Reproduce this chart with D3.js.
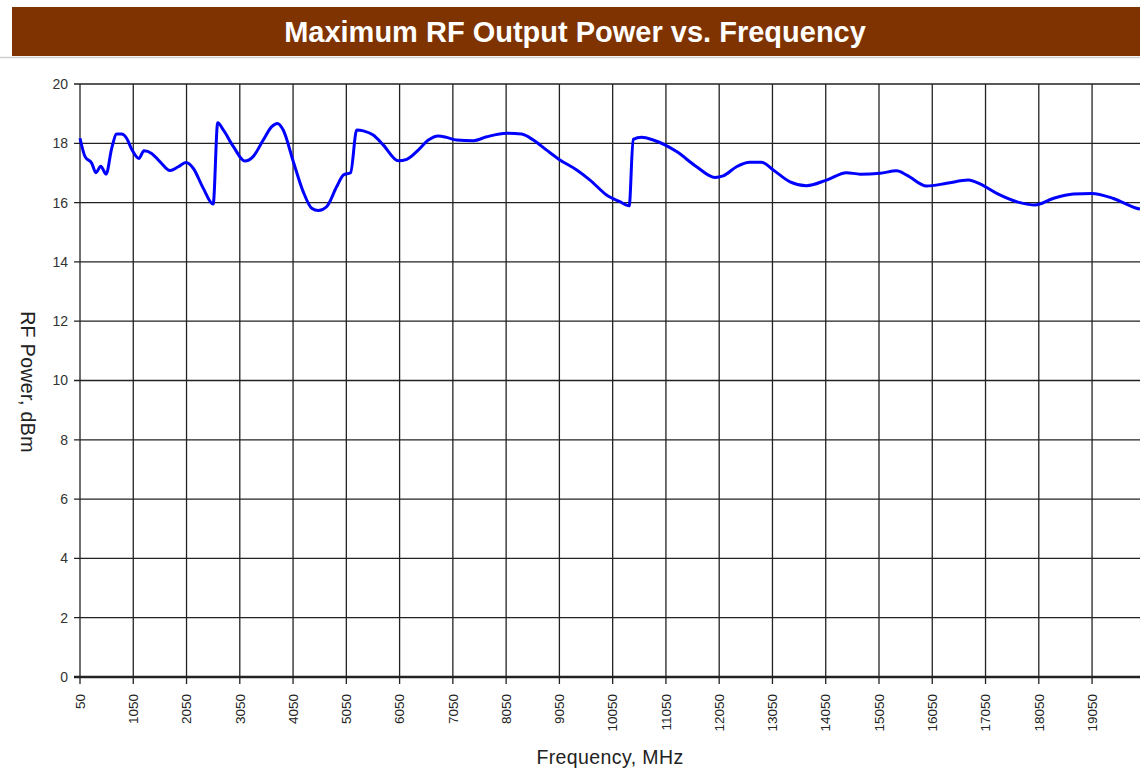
<!DOCTYPE html>
<html>
<head>
<meta charset="utf-8">
<script src="https://cdn.jsdelivr.net/npm/d3@7"></script>
<style>
  body { margin: 0; background: #fff; }
  svg { display: block; font-family: Arial, "Liberation Sans", sans-serif; }
</style>
</head>
<body>
<div id="chart-area"></div>
<script>
// data
var freqs = [50, 145, 270, 350, 440, 540, 645, 740, 830, 925, 1020, 1155, 1250, 1395, 1550, 1740, 1895, 2040, 2175, 2365, 2550, 2635, 2740, 2930, 3145, 3300, 3490, 3650, 3755, 3865, 4055, 4240, 4400, 4525, 4680, 4870, 4995, 5130, 5245, 5370, 5555, 5745, 6025, 6185, 6400, 6590, 6775, 6935, 7120, 7435, 7685, 8060, 8340, 8560, 8810, 9060, 9375, 9625, 9935, 10185, 10360, 10435, 10595, 10810, 11250, 11625, 11970, 12125, 12375, 12625, 12845, 13065, 13380, 13690, 14065, 14440, 14695, 15070, 15380, 15570, 15945, 16320, 16725, 16945, 17260, 17695, 17980, 18320, 18700, 19040, 19450, 19885, 19950];
var power = [18.17, 17.55, 17.33, 17.01, 17.23, 16.96, 17.83, 18.31, 18.31, 18.17, 17.80, 17.49, 17.75, 17.66, 17.38, 17.08, 17.21, 17.35, 17.16, 16.48, 15.95, 18.69, 18.45, 17.89, 17.40, 17.55, 18.11, 18.56, 18.67, 18.45, 17.38, 16.37, 15.81, 15.73, 15.86, 16.54, 16.93, 17.01, 18.45, 18.42, 18.28, 17.94, 17.41, 17.46, 17.77, 18.11, 18.25, 18.20, 18.11, 18.09, 18.22, 18.34, 18.31, 18.11, 17.77, 17.44, 17.10, 16.76, 16.26, 16.03, 15.89, 18.13, 18.20, 18.11, 17.72, 17.21, 16.85, 16.90, 17.21, 17.36, 17.36, 17.10, 16.70, 16.57, 16.76, 17.01, 16.96, 16.99, 17.07, 16.93, 16.56, 16.65, 16.76, 16.63, 16.31, 16.00, 15.92, 16.14, 16.29, 16.31, 16.14, 15.81, 15.78];
var xTicks = [50, 1050, 2050, 3050, 4050, 5050, 6050, 7050, 8050, 9050, 10050, 11050, 12050, 13050, 14050, 15050, 16050, 17050, 18050, 19050];
var yTicks = [0, 2, 4, 6, 8, 10, 12, 14, 16, 18, 20];

var title = "Maximum RF Output Power vs. Frequency";
var xLabel = "Frequency, MHz";
var yLabel = "RF Power, dBm";

var width = 1140;
var height = 769;
var margin = {top: 84, right: 0, bottom: 92, left: 80};
var plotW = width - margin.left - margin.right;
var plotH = height - margin.top - margin.bottom;

var svg = d3.select("#chart-area")
	.append("svg")
	.attr("width", width)
	.attr("height", height);

// title band
svg.append("line")
	.attr("x1", 0).attr("x2", width)
	.attr("y1", 57.5).attr("y2", 57.5)
	.attr("stroke", "#cfcfcf")
	.attr("stroke-width", 1.5);
svg.append("rect")
	.attr("x", 12).attr("y", 7)
	.attr("width", width - 12).attr("height", 49)
	.attr("fill", "#7f3300");
svg.append("text")
	.attr("x", 575).attr("y", 42)
	.attr("text-anchor", "middle")
	.attr("fill", "#fff")
	.attr("font-size", "29px")
	.attr("font-weight", "bold")
	.text(title);

var g = svg.append("g")
	.attr("transform", "translate(" + margin.left + ", " + margin.top + ")");

var x = d3.scaleLinear()
	.domain([50, 19950])
	.range([0, plotW]);
var y = d3.scaleLinear()
	.domain([0, 20])
	.range([plotH, 0]);

// grid
g.append("g")
	.selectAll("line")
	.data(yTicks)
	.enter()
	.append("line")
	.attr("x1", -6).attr("x2", plotW)
	.attr("y1", (d) => { return y(d); })
	.attr("y2", (d) => { return y(d); })
	.attr("stroke", "#222")
	.attr("stroke-width", (d) => { return d === 0 ? 2.5 : 1.3; });

g.append("g")
	.selectAll("line")
	.data(xTicks)
	.enter()
	.append("line")
	.attr("x1", (d) => { return x(d); })
	.attr("x2", (d) => { return x(d); })
	.attr("y1", 0).attr("y2", plotH + 7)
	.attr("stroke", "#222")
	.attr("stroke-width", 1.3);

// tick labels
g.append("g")
	.selectAll("text")
	.data(yTicks)
	.enter()
	.append("text")
	.attr("x", -12)
	.attr("y", (d) => { return y(d); })
	.attr("dy", "0.35em")
	.attr("text-anchor", "end")
	.attr("font-size", "14px")
	.attr("fill", "#333")
	.text((d) => { return d; });

g.append("g")
	.selectAll("text")
	.data(xTicks)
	.enter()
	.append("text")
	.attr("transform", (d) => { return "translate(" + x(d) + ", " + (plotH + 17) + ") rotate(-90)"; })
	.attr("dy", "0.35em")
	.attr("text-anchor", "end")
	.attr("font-size", "13.5px")
	.attr("fill", "#222")
	.text((d) => { return d; });

// curve
var pts = freqs.map((f, i) => { return [f, power[i]]; });
var line = d3.line()
	.x((d) => { return x(d[0]); })
	.y((d) => { return y(d[1]); })
	.curve(d3.curveMonotoneX);

g.append("path")
	.datum(pts)
	.attr("d", line)
	.attr("fill", "none")
	.attr("stroke", "#0000ff")
	.attr("stroke-width", 3)
	.attr("stroke-linejoin", "round");

// axis labels
svg.append("text")
	.attr("x", 610)
	.attr("y", 764)
	.attr("text-anchor", "middle")
	.attr("font-size", "19.5px")
	.attr("letter-spacing", "0.4px")
	.attr("fill", "#222")
	.text(xLabel);

svg.append("text")
	.attr("transform", "translate(21, 382) rotate(90)")
	.attr("text-anchor", "middle")
	.attr("font-size", "19.5px")
	.attr("letter-spacing", "0.4px")
	.attr("fill", "#222")
	.text(yLabel);
</script>
</body>
</html>
